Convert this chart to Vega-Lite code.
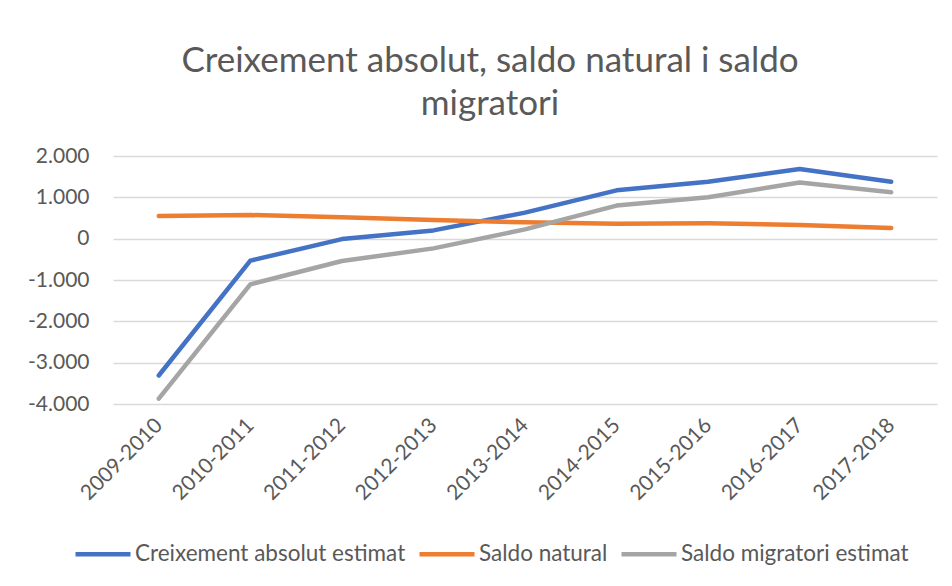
{
  "$schema": "https://vega.github.io/schema/vega-lite/v6.json",
  "autosize": "none",
  "width": 824,
  "height": 248,
  "padding": {"left": 113, "top": 156, "right": 15, "bottom": 182},
  "background": "white",
  "title": {
    "text": ["Creixement absolut, saldo natural i saldo", "migratori"],
    "font": "Lato",
    "fontSize": 35,
    "fontWeight": "normal",
    "color": "#595959",
    "lineHeight": 43,
    "anchor": "middle",
    "dx": -35,
    "offset": 23
  },
  "data": {
    "values": [
      {"period": "2009-2010", "series": "Creixement absolut estimat", "value": -3310},
      {"period": "2010-2011", "series": "Creixement absolut estimat", "value": -532},
      {"period": "2011-2012", "series": "Creixement absolut estimat", "value": -10},
      {"period": "2012-2013", "series": "Creixement absolut estimat", "value": 200},
      {"period": "2013-2014", "series": "Creixement absolut estimat", "value": 630},
      {"period": "2014-2015", "series": "Creixement absolut estimat", "value": 1169},
      {"period": "2015-2016", "series": "Creixement absolut estimat", "value": 1379},
      {"period": "2016-2017", "series": "Creixement absolut estimat", "value": 1685},
      {"period": "2017-2018", "series": "Creixement absolut estimat", "value": 1379},
      {"period": "2009-2010", "series": "Saldo natural", "value": 548},
      {"period": "2010-2011", "series": "Saldo natural", "value": 573},
      {"period": "2011-2012", "series": "Saldo natural", "value": 516},
      {"period": "2012-2013", "series": "Saldo natural", "value": 452},
      {"period": "2013-2014", "series": "Saldo natural", "value": 395},
      {"period": "2014-2015", "series": "Saldo natural", "value": 363},
      {"period": "2015-2016", "series": "Saldo natural", "value": 371},
      {"period": "2016-2017", "series": "Saldo natural", "value": 331},
      {"period": "2017-2018", "series": "Saldo natural", "value": 258},
      {"period": "2009-2010", "series": "Saldo migratori estimat", "value": -3870},
      {"period": "2010-2011", "series": "Saldo migratori estimat", "value": -1105},
      {"period": "2011-2012", "series": "Saldo migratori estimat", "value": -540},
      {"period": "2012-2013", "series": "Saldo migratori estimat", "value": -235},
      {"period": "2013-2014", "series": "Saldo migratori estimat", "value": 225},
      {"period": "2014-2015", "series": "Saldo migratori estimat", "value": 800},
      {"period": "2015-2016", "series": "Saldo migratori estimat", "value": 1000},
      {"period": "2016-2017", "series": "Saldo migratori estimat", "value": 1360},
      {"period": "2017-2018", "series": "Saldo migratori estimat", "value": 1121}
    ]
  },
  "mark": {"type": "line", "strokeWidth": 4.5, "strokeCap": "round", "strokeJoin": "round"},
  "encoding": {
    "x": {
      "field": "period",
      "type": "ordinal",
      "sort": null,
      "scale": {"type": "point", "padding": 0.5},
      "axis": {
        "title": null,
        "labelAngle": -45,
        "labelAlign": "right",
        "labelBaseline": "middle",
        "labelPadding": 18,
        "labelFont": "Lato",
        "labelFontSize": 21,
        "labelColor": "#595959",
        "domain": false,
        "ticks": false,
        "grid": false
      }
    },
    "y": {
      "field": "value",
      "type": "quantitative",
      "scale": {"domain": [-4000, 2000], "nice": false, "zero": false},
      "axis": {
        "title": null,
        "values": [-4000, -3000, -2000, -1000, 0, 1000, 2000],
        "format": ",d",
        "labelFont": "Lato",
        "labelFontSize": 21,
        "labelColor": "#595959",
        "labelPadding": 24,
        "domain": false,
        "ticks": false,
        "grid": true,
        "gridColor": "#D9D9D9",
        "gridWidth": 1.5
      }
    },
    "color": {
      "field": "series",
      "type": "nominal",
      "scale": {
        "domain": ["Creixement absolut estimat", "Saldo natural", "Saldo migratori estimat"],
        "range": ["#4472C4", "#ED7D31", "#A5A5A5"]
      },
      "legend": {
        "title": null,
        "orient": "none",
        "direction": "horizontal",
        "legendX": -40,
        "legendY": 368,
        "padding": 0,
        "symbolType": "stroke",
        "symbolSize": 3025,
        "symbolStrokeWidth": 4.5,
        "labelFont": "Lato",
        "labelFontSize": 22.5,
        "labelLimit": 0,
        "labelColor": "#595959",
        "labelOffset": 2,
        "columnPadding": 4
      }
    }
  },
  "config": {
    "view": {"stroke": null},
    "locale": {
      "number": {"decimal": ",", "thousands": ".", "grouping": [3], "currency": ["", " €"], "minus": "-"}
    }
  }
}
